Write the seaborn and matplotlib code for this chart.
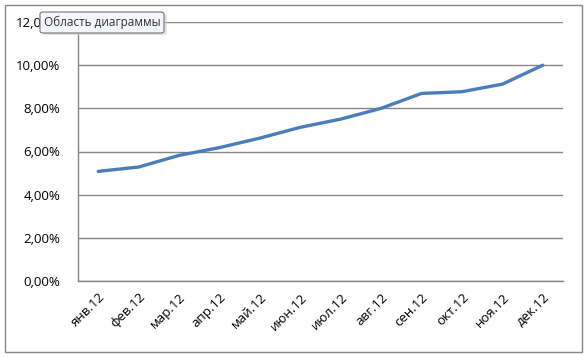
import matplotlib
matplotlib.use("Agg")
import matplotlib.pyplot as plt
import seaborn as sns
import pandas as pd
from matplotlib.patches import Rectangle, FancyBboxPatch
from matplotlib.ticker import FuncFormatter

# data
months = ["янв.12", "фев.12", "мар.12", "апр.12", "май.12", "июн.12",
          "июл.12", "авг.12", "сен.12", "окт.12", "ноя.12", "дек.12"]
rate = [5.08, 5.28, 5.82, 6.18, 6.62, 7.12, 7.50, 8.00, 8.69, 8.77, 9.12, 10.00]

df = pd.DataFrame({"month": months, "rate": rate})
df["pos"] = range(len(months))

sns.set_style("white")
plt.rcParams["font.family"] = ["Open Sans", "DejaVu Sans"]

fig = plt.figure(figsize=(5.88, 3.57), dpi=100)
ax = fig.add_axes([78 / 588, 1 - 281 / 357, 485 / 588, 259 / 357])

sns.lineplot(data=df, x="pos", y="rate", ax=ax, color="#4a7ebb", linewidth=2.4)

ax.set_xlim(-0.5, 11.5)
ax.set_ylim(0, 12)
ax.set_yticks(range(0, 13, 2))
ax.yaxis.set_major_formatter(FuncFormatter(lambda v, p: f"{v:.2f}%".replace(".", ",")))
ax.set_xticks(df["pos"])
ax.set_xticklabels(months, rotation=45, ha="right", rotation_mode="anchor")
ax.tick_params(axis="x", labelsize=9.5, length=0, pad=7, colors="black")
ax.tick_params(axis="y", labelsize=9.5, length=0, pad=13, colors="black")
ax.set_xlabel("")
ax.set_ylabel("")

ax.grid(axis="y", color="#868686", linewidth=1)
ax.set_axisbelow(True)
for side in ["top", "right"]:
    ax.spines[side].set_visible(False)
for side in ["left", "bottom"]:
    ax.spines[side].set_color("#868686")
    ax.spines[side].set_linewidth(1)

# outer chart border
fig.patches.append(Rectangle((5 / 588, 5 / 357), 577 / 588, 347 / 357,
                             transform=fig.transFigure, fill=False,
                             edgecolor="#868686", linewidth=1))

# tooltip "Область диаграммы" (with a soft shadow)
fig.patches.append(FancyBboxPatch((43 / 588, 1 - 35 / 357), 124 / 588, 21 / 357,
                                  boxstyle="round,pad=0,rounding_size=0.006",
                                  transform=fig.transFigure, facecolor="#d0d0d0",
                                  edgecolor="none", alpha=0.6, zorder=4))
fig.patches.append(FancyBboxPatch((40 / 588, 1 - 33 / 357), 124 / 588, 21 / 357,
                                  boxstyle="round,pad=0,rounding_size=0.006",
                                  transform=fig.transFigure, facecolor="#f4f6fb",
                                  edgecolor="#767676", linewidth=0.8, zorder=5))
fig.text(102 / 588, 1 - 22.5 / 357, "Область диаграммы", ha="center", va="center",
         fontsize=8.5, color="#333333", zorder=6)

fig.savefig("out.png", dpi=100)
